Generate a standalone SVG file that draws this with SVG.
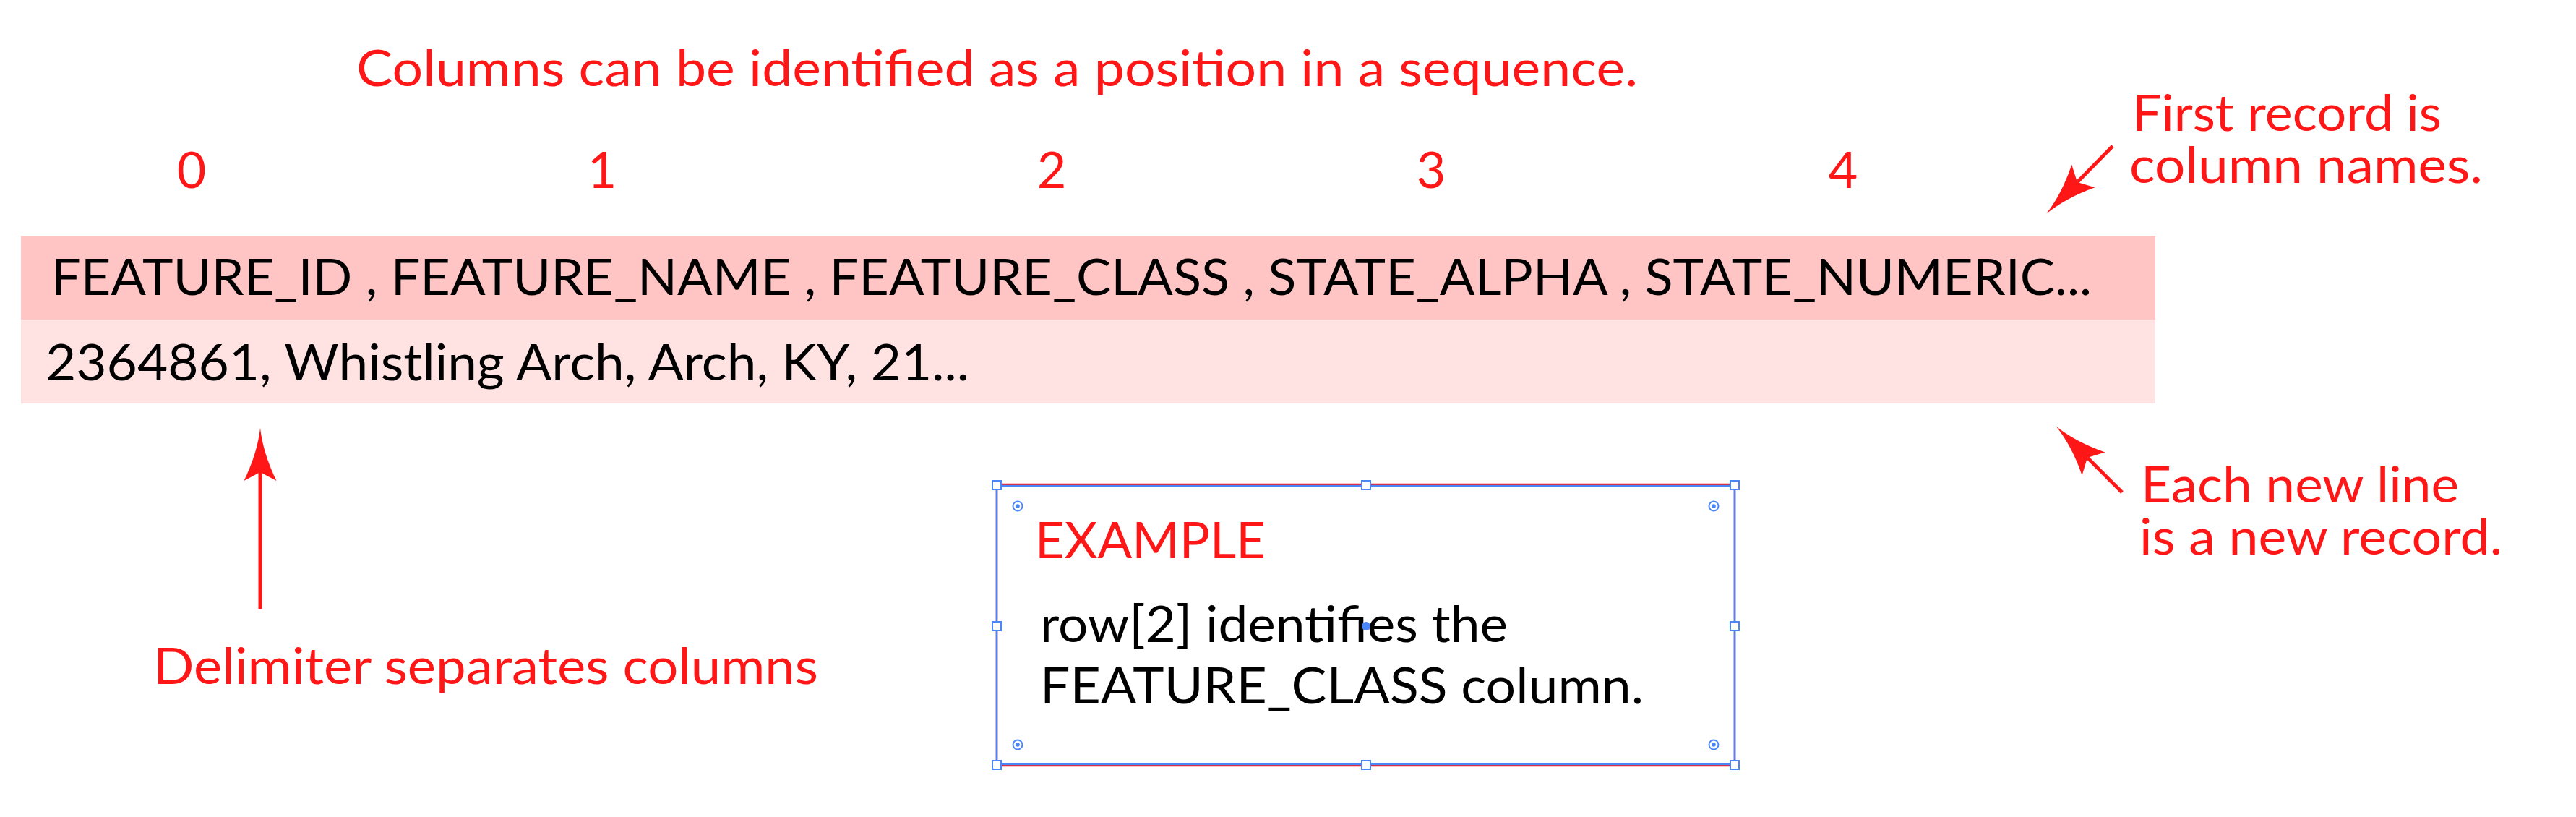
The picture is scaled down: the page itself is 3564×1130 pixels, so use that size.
<svg xmlns="http://www.w3.org/2000/svg" width="3564" height="1130" viewBox="0 0 3564 1130">
<style>
text{font-family:Lato,"Open Sans","Liberation Sans",sans-serif;font-size:70px}
.red{fill:#FF1717}
.blk{fill:#000}
.arr{stroke:#FF1717;stroke-width:5;fill:none;marker-end:url(#head)}
.h{fill:#fff;stroke:#4A86F7;stroke-width:2}
.tgt{fill:none;stroke:#4A86F7;stroke-width:2}
.dot{fill:#4A86F7}
</style>
<defs>
<marker id="head" markerUnits="userSpaceOnUse" viewBox="-80 -30 90 60" refX="-61" refY="0" markerWidth="90" markerHeight="60" orient="auto">
<path d="M0,0 Q-35,-4 -73,-22.5 L-61,0 L-73,22.5 Q-35,4 0,0 Z" fill="#FF1717"/>
</marker>
</defs>
<rect width="3564" height="1130" fill="#fff"/>
<g id="title"><text class="red" x="493" y="119" textLength="1773" lengthAdjust="spacingAndGlyphs">Columns can be identified as a position in a sequence.</text></g>
<g id="indices">
<text class="red" x="265" y="260" text-anchor="middle">0</text>
<text class="red" x="833" y="260" text-anchor="middle">1</text>
<text class="red" x="1455" y="260" text-anchor="middle">2</text>
<text class="red" x="1980" y="260" text-anchor="middle">3</text>
<text class="red" x="2550" y="260" text-anchor="middle">4</text>
</g>
<g id="header-row">
<rect x="29" y="326" width="2953" height="116" fill="#FFC4C4"/>
<text class="blk" x="71" y="408" textLength="2823" lengthAdjust="spacingAndGlyphs">FEATURE_ID , FEATURE_NAME , FEATURE_CLASS , STATE_ALPHA , STATE_NUMERIC...</text>
</g>
<g id="data-row">
<rect x="29" y="442" width="2953" height="116" fill="#FFE2E2"/>
<text class="blk" x="63" y="526" textLength="1278" lengthAdjust="spacingAndGlyphs">2364861, Whistling Arch, Arch, KY, 21...</text>
</g>
<g id="note-first">
<text class="red" x="2950" y="181" textLength="428" lengthAdjust="spacingAndGlyphs">First record is</text>
<text class="red" x="2946" y="253" textLength="489" lengthAdjust="spacingAndGlyphs">column names.</text>
</g>
<g id="note-each">
<text class="red" x="2962" y="695" textLength="440" lengthAdjust="spacingAndGlyphs">Each new line</text>
<text class="red" x="2960" y="767" textLength="502" lengthAdjust="spacingAndGlyphs">is a new record.</text>
</g>
<g id="note-delim">
<text class="red" x="212" y="946" textLength="920" lengthAdjust="spacingAndGlyphs">Delimiter separates columns</text>
</g>
<g id="example">
<rect x="1379" y="670" width="1021" height="389" fill="#fff" stroke="#FF1717" stroke-width="2.5"/>
<rect x="1379" y="672" width="1021" height="385" fill="none" stroke="#4A86F7" stroke-width="2.5"/>
<text class="red" x="1432" y="772" textLength="319" lengthAdjust="spacingAndGlyphs">EXAMPLE</text>
<text class="blk" x="1439" y="888" textLength="647" lengthAdjust="spacingAndGlyphs">row[2] identifies the</text>
<text class="blk" x="1439" y="973" textLength="835" lengthAdjust="spacingAndGlyphs">FEATURE_CLASS column.</text>
<rect class="h" x="1373" y="665" width="12" height="12"/>
<rect class="h" x="1884" y="665" width="12" height="12"/>
<rect class="h" x="2394" y="665" width="12" height="12"/>
<rect class="h" x="1373" y="860" width="12" height="12"/>
<rect class="h" x="2394" y="860" width="12" height="12"/>
<rect class="h" x="1373" y="1052" width="12" height="12"/>
<rect class="h" x="1884" y="1052" width="12" height="12"/>
<rect class="h" x="2394" y="1052" width="12" height="12"/>
<circle class="tgt" cx="1408" cy="700" r="6.5"/><circle class="dot" cx="1408" cy="700" r="2.8"/>
<circle class="tgt" cx="2371" cy="700" r="6.5"/><circle class="dot" cx="2371" cy="700" r="2.8"/>
<circle class="tgt" cx="1408" cy="1030" r="6.5"/><circle class="dot" cx="1408" cy="1030" r="2.8"/>
<circle class="tgt" cx="2371" cy="1030" r="6.5"/><circle class="dot" cx="2371" cy="1030" r="2.8"/>
<circle class="dot" cx="1890" cy="866" r="6"/>
</g>
<g id="connectors">
<line class="arr" x1="2923" y1="202" x2="2874" y2="252"/>
<line class="arr" x1="2936" y1="681" x2="2888" y2="633"/>
<line class="arr" x1="360" y1="842" x2="360" y2="653"/>
</g>
</svg>
